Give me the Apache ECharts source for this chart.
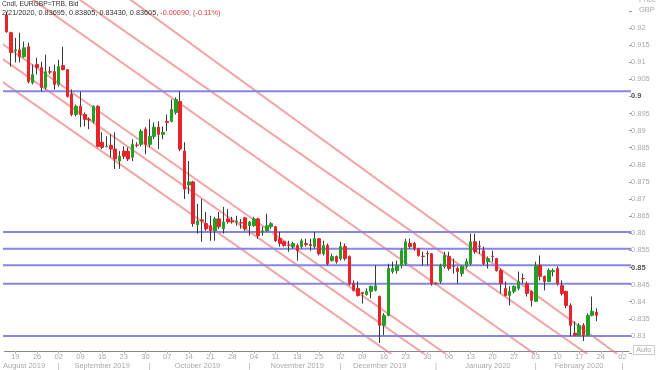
<!DOCTYPE html>
<html><head><meta charset="utf-8">
<script src="https://cdn.jsdelivr.net/npm/echarts@6/dist/echarts.min.js"></script>
<style>html,body{margin:0;padding:0;background:#fff}#c{width:660px;height:370px}</style>
</head><body><div id="c"></div>
<script>
const dates = [
'2019-08-15','2019-08-16','2019-08-19','2019-08-20','2019-08-21','2019-08-22','2019-08-23','2019-08-26','2019-08-27','2019-08-28','2019-08-29','2019-08-30',
'2019-09-02','2019-09-03','2019-09-04','2019-09-05','2019-09-06','2019-09-09','2019-09-10','2019-09-11','2019-09-12','2019-09-13','2019-09-16','2019-09-17','2019-09-18','2019-09-19','2019-09-20','2019-09-23','2019-09-24','2019-09-25','2019-09-26','2019-09-27','2019-09-30',
'2019-10-01','2019-10-02','2019-10-03','2019-10-04','2019-10-07','2019-10-08','2019-10-09','2019-10-10','2019-10-11','2019-10-14','2019-10-15','2019-10-16','2019-10-17','2019-10-18','2019-10-21','2019-10-22','2019-10-23','2019-10-24','2019-10-25','2019-10-28','2019-10-29','2019-10-30','2019-10-31',
'2019-11-01','2019-11-04','2019-11-05','2019-11-06','2019-11-07','2019-11-08','2019-11-11','2019-11-12','2019-11-13','2019-11-14','2019-11-15','2019-11-18','2019-11-19','2019-11-20','2019-11-21','2019-11-22','2019-11-25','2019-11-26','2019-11-27','2019-11-28','2019-11-29',
'2019-12-02','2019-12-03','2019-12-04','2019-12-05','2019-12-06','2019-12-09','2019-12-10','2019-12-11','2019-12-12','2019-12-13','2019-12-16','2019-12-17','2019-12-18','2019-12-19','2019-12-20','2019-12-23','2019-12-24','2019-12-25','2019-12-26','2019-12-27','2019-12-30','2019-12-31',
'2020-01-01','2020-01-02','2020-01-03','2020-01-06','2020-01-07','2020-01-08','2020-01-09','2020-01-10','2020-01-13','2020-01-14','2020-01-15','2020-01-16','2020-01-17','2020-01-20','2020-01-21','2020-01-22','2020-01-23','2020-01-24','2020-01-27','2020-01-28','2020-01-29','2020-01-30','2020-01-31',
'2020-02-03','2020-02-04','2020-02-05','2020-02-06','2020-02-07','2020-02-10','2020-02-11','2020-02-12','2020-02-13','2020-02-14','2020-02-17','2020-02-18','2020-02-19','2020-02-20','2020-02-21',
'2020-02-24','2020-02-25','2020-02-26','2020-02-27','2020-02-28','2020-03-02','2020-03-03'];

const opens = [
0.9238,0.9186,0.9133,0.9136,0.9116,0.9145,0.9040,0.9093,0.9084,0.9026,
0.9072,0.9072,0.9035,0.9090,0.9078,0.9006,0.8947,0.8971,0.8947,0.8933,
0.8927,0.8971,0.8866,0.8853,0.8857,0.8846,0.8811,0.8840,0.8840,0.8822,
0.8858,0.8860,0.8904,0.8860,0.8883,0.8910,0.8889,0.8927,0.8927,0.8953,
0.8985,0.8840,0.8741,0.8750,0.8625,0.8639,0.8628,0.8622,0.8607,0.8642,
0.8613,0.8642,0.8636,0.8633,0.8631,0.8645,0.8622,0.8622,0.8642,0.8604,
0.8607,0.8619,0.8619,0.8584,0.8575,0.8565,0.8561,0.8564,0.8561,0.8570,
0.8567,0.8561,0.8584,0.8540,0.8564,0.8520,0.8532,0.8526,0.8561,0.8532,
0.8453,0.8439,0.8427,0.8421,0.8430,0.8433,0.8415,0.8331,0.8360,0.8488,
0.8491,0.8506,0.8511,0.8570,0.8570,0.8555,0.8533,0.8541,0.8540,0.8454,
0.8459,0.8503,0.8532,0.8504,0.8497,0.8482,0.8503,0.8511,0.8575,0.8562,
0.8549,0.8517,0.8533,0.8526,0.8491,0.8439,0.8418,0.8430,0.8439,0.8468,
0.8453,0.8430,0.8401,0.8506,0.8474,0.8459,0.8488,0.8497,0.8447,0.8430,
0.8389,0.8308,0.8302,0.8331,0.8302,0.8360,0.83695];
const closes = [
0.9189,0.9128,0.9136,0.9116,0.9142,0.9043,0.9064,0.9084,0.9026,0.9072,
0.9071,0.9035,0.9087,0.9078,0.9000,0.8947,0.8971,0.8947,0.8933,0.8931,
0.8971,0.8854,0.8851,0.8854,0.8846,0.8817,0.8825,0.8825,0.8817,0.8860,
0.8857,0.8898,0.8860,0.8883,0.8910,0.8889,0.8895,0.8924,0.8962,0.8991,
0.8846,0.8729,0.8750,0.8628,0.8636,0.8636,0.8613,0.8607,0.8642,0.8619,
0.8633,0.8633,0.8633,0.8636,0.8630,0.8613,0.8633,0.8642,0.8593,0.8607,
0.8622,0.8628,0.8578,0.8570,0.8564,0.8564,0.8570,0.8549,0.8578,0.8567,
0.8564,0.8584,0.8540,0.8564,0.8511,0.8532,0.8517,0.8561,0.8526,0.8453,
0.8433,0.8418,0.8424,0.8430,0.8445,0.8447,0.8331,0.8360,0.8497,0.8497,
0.8506,0.8549,0.8575,0.8561,0.8555,0.8535,0.8532,0.8540,0.8453,0.8453,
0.8506,0.8535,0.8497,0.8503,0.8488,0.8503,0.8517,0.8575,0.8546,0.8561,
0.8511,0.8526,0.8532,0.8491,0.8453,0.8418,0.8430,0.8445,0.8459,0.8467,
0.8424,0.8404,0.8506,0.8474,0.8459,0.8491,0.8491,0.8453,0.8424,0.8389,
0.8331,0.8302,0.8331,0.8302,0.8360,0.8372,0.83605];
const lows = [
0.9186,0.9087,0.9099,0.9099,0.9113,0.9038,0.9035,0.9064,0.9014,0.9020,
0.9064,0.9020,0.9029,0.9076,0.8997,0.8942,0.8942,0.8910,0.8912,0.8904,
0.8921,0.8851,0.8846,0.8851,0.8822,0.8788,0.8788,0.8817,0.8811,0.8811,
0.8851,0.8854,0.8831,0.8851,0.8875,0.8846,0.8875,0.8898,0.8924,0.8947,
0.8840,0.8700,0.8715,0.8619,0.8599,0.8575,0.8607,0.8578,0.8578,0.8613,
0.8599,0.8628,0.8628,0.8622,0.8613,0.8607,0.8593,0.8619,0.8584,0.8593,
0.8604,0.8613,0.8575,0.8561,0.8561,0.8546,0.8555,0.8520,0.8555,0.8561,
0.8549,0.8555,0.8535,0.8535,0.8506,0.8517,0.8511,0.8520,0.8520,0.8447,
0.8430,0.8415,0.8395,0.8418,0.8410,0.8430,0.8279,0.8302,0.8357,0.8482,
0.8482,0.8497,0.8506,0.8555,0.8549,0.8532,0.8506,0.8506,0.8447,0.8450,
0.8453,0.8497,0.8491,0.8482,0.8453,0.8474,0.8497,0.8506,0.8540,0.8540,
0.8506,0.8497,0.8517,0.8488,0.8424,0.8415,0.8389,0.8424,0.8433,0.8453,
0.8415,0.8386,0.8399,0.8462,0.8433,0.8457,0.8474,0.8447,0.8418,0.8381,
0.8299,0.8299,0.8299,0.8285,0.8300,0.8357,0.83430];
const highs = [
0.9247,0.9189,0.9171,0.9186,0.9160,0.9157,0.9093,0.9113,0.9101,0.9122,
0.9087,0.9093,0.9107,0.9145,0.9080,0.9020,0.8976,0.9014,0.8953,0.8939,
0.8974,0.8974,0.8895,0.8883,0.8889,0.8895,0.8840,0.8854,0.8851,0.8875,
0.8866,0.8904,0.8910,0.8933,0.8924,0.8927,0.8912,0.8947,0.8991,0.8997,
0.9015,0.8866,0.8811,0.8753,0.8686,0.8700,0.8662,0.8651,0.8648,0.8662,
0.8677,0.8671,0.8648,0.8651,0.8642,0.8648,0.8636,0.8648,0.8645,0.8619,
0.8657,0.8633,0.8622,0.8604,0.8578,0.8578,0.8575,0.8570,0.8584,0.8584,
0.8584,0.8604,0.8586,0.8578,0.8570,0.8540,0.8535,0.8575,0.8570,0.8535,
0.8462,0.8459,0.8428,0.8439,0.8447,0.8506,0.8418,0.8366,0.8511,0.8517,
0.8520,0.8555,0.8584,0.8584,0.8575,0.8557,0.8546,0.8549,0.8542,0.8456,
0.8511,0.8546,0.8546,0.8526,0.8503,0.8506,0.8526,0.8599,0.8599,0.8578,
0.8561,0.8532,0.8549,0.8528,0.8497,0.8459,0.8445,0.8447,0.8488,0.8482,
0.8459,0.8433,0.8517,0.8535,0.8476,0.8497,0.8497,0.8503,0.8462,0.8432,
0.8395,0.8343,0.8337,0.8337,0.8366,0.8415,0.83805];

const hLines = [0.9015, 0.86035, 0.8555, 0.85064, 0.84523, 0.8300];
// trend lines: [startIndex, startPrice, endIndex, endPrice]
const trendLines = [
  [5.16, 0.92904, 121.8, 0.82468],
  [15.94, 0.92904, 133.9, 0.82468],
  [27.68, 0.92904, 140.8, 0.82468],
  [-1.88, 0.91611, 101.3, 0.82468],
  [-1.88, 0.91175, 96.3, 0.82468],
  [-1.88, 0.90506, 88.7, 0.82468]
];
const boldTicks = [0.9, 0.85];
const monthLabels = {'2019-08-21':'August 2019','2019-09-16':'September 2019','2019-10-16':'October 2019','2019-11-18':'November 2019','2019-12-13':'December 2019','2020-01-17':'January 2020','2020-02-17':'February 2020'};
const monthStarts = ['2019-09-02','2019-10-01','2019-11-01','2019-12-02','2020-01-01','2020-02-03','2020-03-02'];
const lastPrice = 0.83605;
const headerTitle = 'Cndl, EURGBP=TRB, Bid';
const headerValues = '2/21/2020, 0.83695, 0.83805, 0.83430, 0.83605, ';
const headerChange = '-0.00090, (-0.11%)';

const FONT = 'Liberation Sans';
const UP = '#23a023', DOWN = '#e8232a', WICK = '#3a3a3a';
const n = opens.length;
const lastIdx = dates.length - 0.5;
const wickData = dates.map((d, i) => i < n ? [opens[i], closes[i], lows[i], highs[i]] : '-');
const bodyData = dates.map((d, i) => i < n ? [opens[i], closes[i], Math.min(opens[i], closes[i]), Math.max(opens[i], closes[i])] : '-');
const isMonday = s => new Date(s + 'T00:00:00Z').getUTCDay() === 1;

const chart = echarts.init(document.getElementById('c'), null, {renderer: 'canvas'});
chart.setOption({
  animation: false,
  backgroundColor: '#fff',
  textStyle: {fontFamily: FONT},
  title: [
    {left: 2, top: -1, padding: 0, text: '{t|' + headerTitle + '}\n{a|' + headerValues + '}{r|' + headerChange + '}',
     textStyle: {fontWeight: 'normal', rich: {
       t: {fontSize: 6.7, color: '#333', fontWeight: 'normal', fontFamily: FONT, lineHeight: 9.5},
       a: {fontSize: 7.3, color: '#333', fontWeight: 'normal', fontFamily: FONT, lineHeight: 9.5},
       r: {fontSize: 7.3, color: '#e0393e', fontWeight: 'normal', fontFamily: FONT, lineHeight: 9.5}}}},
    {left: 634, top: -10, text: 'Price\nGBP', textStyle: {fontSize: 7.5, color: '#aaa', fontWeight: 'normal', lineHeight: 10, fontFamily: FONT}},
    {left: 633, top: 345, text: 'Auto', padding: [1, 3], borderColor: '#ccc', borderWidth: 1, textStyle: {fontSize: 7.5, color: '#aaa', fontWeight: 'normal', fontFamily: FONT}}
  ],
  grid: {left: 1, right: 31, top: 0, bottom: 15.1, containLabel: false},
  xAxis: [
    {type: 'category', data: dates, boundaryGap: true, offset: -2,
     axisLine: {show: true, onZero: false, lineStyle: {color: '#888', width: 1}},
     axisTick: {show: true, alignWithLabel: true, length: 3, interval: (i, v) => isMonday(v), lineStyle: {color: '#bbb'}},
     axisLabel: {interval: (i, v) => isMonday(v), formatter: v => v.slice(8, 10), fontSize: 7.5, color: '#aaa', margin: 2, fontFamily: FONT},
     splitLine: {show: false}},
    {type: 'category', data: dates, boundaryGap: true, position: 'bottom', offset: 6,
     axisLine: {show: false, onZero: false}, axisTick: {show: false},
     axisLabel: {interval: (i, v) => !!monthLabels[v] || monthStarts.includes(v), formatter: v => monthLabels[v] || '|', fontSize: 7.5, color: '#aaa', margin: 3, fontFamily: FONT},
     splitLine: {show: false}},
    {type: 'value', min: -0.5, max: lastIdx, show: false, axisLine: {onZero: false}}
  ],
  yAxis: {type: 'value', position: 'right', min: 0.825, max: 0.92817, interval: 0.005,
    axisLine: {show: false, onZero: false}, splitLine: {show: false},
    axisTick: {show: true, length: 3, lineStyle: {color: '#999'}},
    axisLabel: {margin: 2, fontSize: 7.5, color: '#aaa', fontFamily: FONT, showMaxLabel: false,
      formatter: v => {
        if (v < 0.8275 || v > 0.9205) return '';
        const s = String(+v.toFixed(3));
        return boldTicks.some(b => Math.abs(b - v) < 1e-6) ? '{b|' + s + '}' : s;
      },
      rich: {b: {fontSize: 7.5, color: '#555', fontWeight: 'bold', fontFamily: FONT}}}},
  series: [
    ...trendLines.map(t => ({type: 'line', xAxisIndex: 2, data: [[t[0], t[1]], [t[2], t[3]]], symbol: 'none', silent: true,
      lineStyle: {color: 'rgba(236,110,110,0.62)', width: 2}, z: 1})),
    ...hLines.map(v => ({type: 'line', xAxisIndex: 2, data: [[-3, v], [lastIdx + 3, v]], symbol: 'none', silent: true,
      lineStyle: {color: '#8585e8', width: 2}, z: 2})),
    {type: 'candlestick', name: 'wick', xAxisIndex: 0, data: wickData, barWidth: 1, z: 3,
     itemStyle: {color: WICK, color0: WICK, borderColor: WICK, borderColor0: WICK, borderWidth: 1}},
    {type: 'candlestick', name: 'body', xAxisIndex: 0, data: bodyData, barWidth: 3, z: 4,
     itemStyle: {color: UP, color0: DOWN, borderColor: UP, borderColor0: DOWN, borderWidth: 1},
     markLine: {silent: true, symbol: 'none', animation: false,
       data: [{yAxis: lastPrice}], lineStyle: {opacity: 0},
       label: {show: true, position: 'end', distance: 1, formatter: String(lastPrice), backgroundColor: '#000', color: '#fff', fontWeight: 'bold', fontSize: 8, padding: [2, 2, 1, 2], fontFamily: FONT}}}
  ]
});
</script></body></html>
